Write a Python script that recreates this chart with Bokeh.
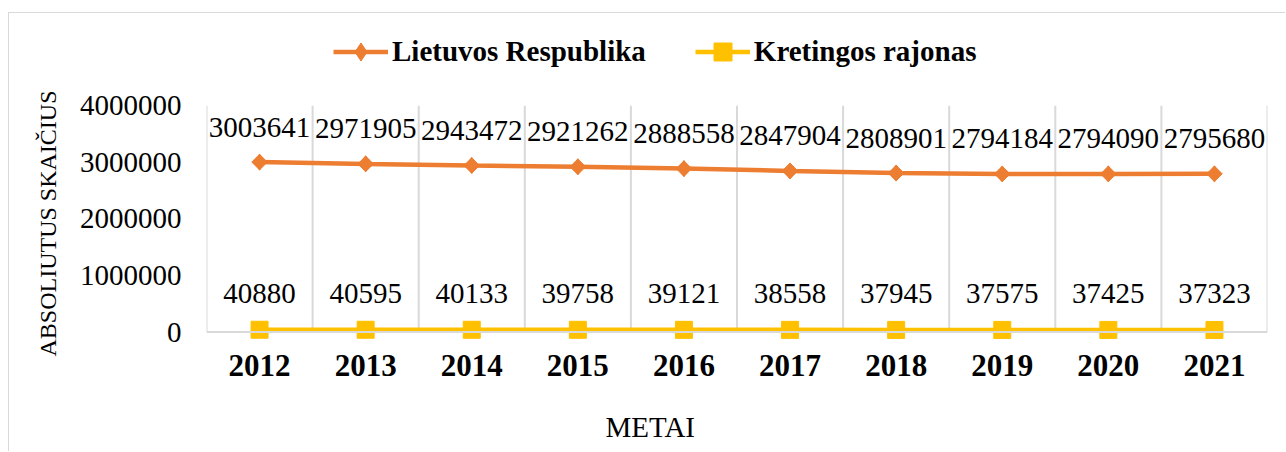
import math
from bokeh.plotting import figure
from bokeh.models import Range1d, FixedTicker, Title, Span, PrintfTickFormatter, Legend, LegendItem
from bokeh.core.properties import value
from bokeh.embed import file_html
from bokeh.resources import INLINE

years = ["2012", "2013", "2014", "2015", "2016", "2017", "2018", "2019", "2020", "2021"]
lietuva = [3003641, 2971905, 2943472, 2921262, 2888558, 2847904, 2808901, 2794184, 2794090, 2795680]
kretinga = [40880, 40595, 40133, 39758, 39121, 38558, 37945, 37575, 37425, 37323]
y_ticks = [0, 1000000, 2000000, 3000000, 4000000]

ORANGE = "#ED7D31"
YELLOW = "#FFC000"
GRID = "#d9d9d9"
FONT = "Liberation Serif"

xs = [i + 0.5 for i in range(len(years))]
bounds = list(range(len(years) + 1))

# frame extends above the top tick so the legend can sit inside it
p = figure(width=1277, height=439,
           x_range=Range1d(0, len(years)), y_range=Range1d(-220000, 5400000),
           output_backend="svg", toolbar_location=None,
           min_border_left=197, min_border_right=19, min_border_top=13, min_border_bottom=108)
p.styles = {"margin-top": "12px", "margin-left": "8px",
            "border-top": "1px solid #d9d9d9", "border-left": "1px solid #d9d9d9"}
p.outline_line_color = None
p.xgrid.visible = False
p.ygrid.visible = False

# category boundary lines and baseline
p.segment(x0=bounds, y0=[y_ticks[0]] * len(bounds), x1=bounds, y1=[y_ticks[-1]] * len(bounds),
          line_color=GRID, line_width=2)
p.add_layout(Span(location=y_ticks[0], dimension="width", line_color=GRID, line_width=2))

# series
r1 = p.line(xs, lietuva, line_color=ORANGE, line_width=4.5)
r2d = p.scatter(xs, lietuva, marker="diamond", size=16, fill_color=ORANGE, line_color=ORANGE)
r2 = p.scatter(xs, lietuva, marker="square", angle=math.pi / 4, size=11, fill_color=ORANGE,
               line_color=ORANGE)
r3 = p.line(xs, kretinga, line_color=YELLOW, line_width=4.5)
r4 = p.scatter(xs, kretinga, marker="square", size=17, fill_color=YELLOW, line_color=YELLOW)

# data labels
p.text(xs, lietuva, text=[str(v) for v in lietuva], y_offset=-35, text_align="center",
       text_baseline="middle", text_font=value(FONT), text_font_size="29px", text_color="black")
p.text(xs, kretinga, text=[str(v) for v in kretinga], y_offset=-36, text_align="center",
       text_baseline="middle", text_font=value(FONT), text_font_size="29px", text_color="black")

# x axis
p.xaxis.ticker = FixedTicker(ticks=xs)
p.xaxis.major_label_overrides = {x: y for x, y in zip(xs, years)}
p.xaxis.axis_line_color = None
p.xaxis.major_tick_line_color = None
p.xaxis.minor_tick_line_color = None
p.xaxis.major_label_text_font = FONT
p.xaxis.major_label_text_font_size = "31px"
p.xaxis.major_label_text_font_style = "bold"
p.xaxis.major_label_text_color = "black"
p.xaxis.major_label_standoff = 4
# blank axis label used only as vertical room before the "METAI" title
p.xaxis.axis_label = " "
p.xaxis.axis_label_text_font_size = "18px"
p.xaxis.axis_label_standoff = 0

# y axis
p.yaxis.ticker = FixedTicker(ticks=y_ticks)
p.yaxis.formatter = PrintfTickFormatter(format="%d")
p.yaxis.axis_line_color = None
p.yaxis.major_tick_line_color = None
p.yaxis.minor_tick_line_color = None
p.yaxis.major_label_text_font = FONT
p.yaxis.major_label_text_font_size = "29px"
p.yaxis.major_label_text_color = "black"
p.yaxis.major_label_standoff = 19

# y axis title (as a side title so it can be placed along the value range)
p.add_layout(Title(text="ABSOLIUTUS SKAIČIUS", align="left", offset=-12, text_font=FONT,
                   text_font_size="24px", text_font_style="normal", text_color="black",
                   standoff=31), "left")

# x axis title
p.add_layout(Title(text="METAI", align="left", offset=399, text_font=FONT,
                   text_font_size="29px", text_font_style="normal", text_color="black",
                   standoff=14), "below")

# legend
legend = Legend(items=[LegendItem(label="Lietuvos Respublika", renderers=[r1, r2d]),
                       LegendItem(label="Kretingos rajonas", renderers=[r3, r4])],
                location=(127, 270), orientation="horizontal",
                padding=0, margin=0, spacing=49, glyph_width=55, glyph_height=45,
                label_standoff=4, label_text_font=FONT, label_text_font_size="29px",
                label_text_font_style="bold", label_text_color="black",
                border_line_color=None, background_fill_alpha=0)
p.add_layout(legend, "center")

open("out.html", "w").write(file_html(p, INLINE))
